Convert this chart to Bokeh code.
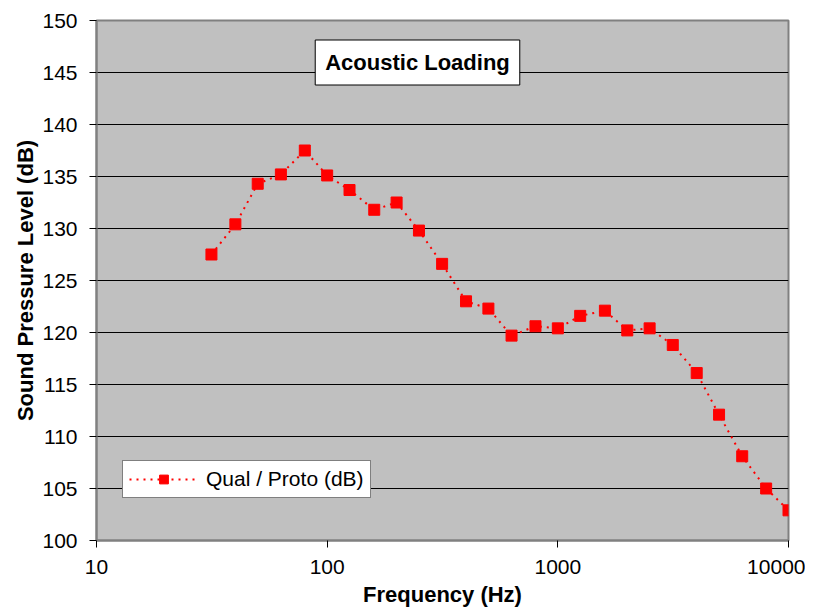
from bokeh.plotting import figure
from bokeh.models import Range1d, FixedTicker, Label, Legend, LegendItem
from bokeh.embed import file_html
from bokeh.resources import INLINE

freq = [31.5, 40, 50, 63, 80, 100, 125, 160, 200, 250, 315, 400, 500, 630, 800,
        1000, 1250, 1600, 2000, 2500, 3150, 4000, 5000, 6300, 8000, 10000]
spl = [127.5, 130.4, 134.3, 135.2, 137.5, 135.1, 133.7, 131.8, 132.5, 129.8, 126.6,
       123.0, 122.3, 119.7, 120.6, 120.4, 121.6, 122.1, 120.2, 120.4, 118.8, 116.1,
       112.1, 108.1, 105.0, 102.9]
x_ticks = [10, 100, 1000, 10000]
y_ticks = list(range(100, 151, 5))
title_text = "Acoustic Loading"
series_name = "Qual / Proto (dB)"

FONT = "Liberation Sans"

p = figure(width=805, height=609, x_axis_type="log", output_backend="svg",
           toolbar_location=None, x_range=Range1d(10, 10000), y_range=Range1d(100, 150),
           min_border_left=96, min_border_right=17, min_border_top=20, min_border_bottom=69)

p.background_fill_color = "#C0C0C0"
p.border_fill_color = "white"
p.outline_line_color = "#808080"
p.outline_line_width = 2

p.xgrid.grid_line_color = None
p.ygrid.grid_line_color = "black"
p.ygrid.grid_line_width = 1
p.ygrid.ticker = FixedTicker(ticks=y_ticks)

p.xaxis.ticker = FixedTicker(ticks=x_ticks)
p.xaxis.major_label_overrides = {t: str(t) for t in x_ticks}
p.yaxis.ticker = FixedTicker(ticks=y_ticks)

for ax in (p.xaxis, p.yaxis):
    ax.axis_line_color = "#808080"
    ax.axis_line_width = 2
    ax.major_tick_line_color = "black"
    ax.major_tick_out = 7
    ax.major_tick_in = 0
    ax.minor_tick_line_color = None
    ax.major_label_text_font = FONT
    ax.major_label_text_font_size = "21px"
    ax.major_label_text_color = "black"
    ax.axis_label_text_font = FONT
    ax.axis_label_text_font_size = "22px"
    ax.axis_label_text_font_style = "bold"
    ax.axis_label_text_color = "black"

p.xaxis.axis_label = "Frequency (Hz)"
p.yaxis.axis_label = "Sound Pressure Level (dB)"
p.yaxis.major_label_standoff = 12
p.xaxis.major_label_standoff = 12
p.xaxis.axis_label_standoff = 5
p.yaxis.axis_label_standoff = 1

ln = p.line(freq, spl, line_color="red", line_width=2, line_dash="2 5")
sq = p.scatter(freq, spl, marker="square", size=11, fill_color="red", line_color="red")

legend = Legend(items=[LegendItem(label=series_name, renderers=[ln, sq])],
                location=(26, 42), border_line_color="black", border_line_width=1,
                background_fill_color="white", background_fill_alpha=1,
                label_text_font=FONT, label_text_font_size="21px",
                label_text_color="black",
                glyph_width=69, glyph_height=22, label_height=22,
                padding=6, margin=0, label_standoff=8, spacing=0)
p.add_layout(legend)

lbl = Label(x=321, y=478, x_units="screen", y_units="screen", text=title_text,
            text_align="center", text_baseline="middle", text_font=FONT,
            text_font_size="22px", text_font_style="bold", text_color="black",
            border_line_color="black", border_line_width=1,
            background_fill_color="white", background_fill_alpha=1, padding=10)
p.add_layout(lbl)

open("out.html", "w").write(file_html(p, INLINE))
